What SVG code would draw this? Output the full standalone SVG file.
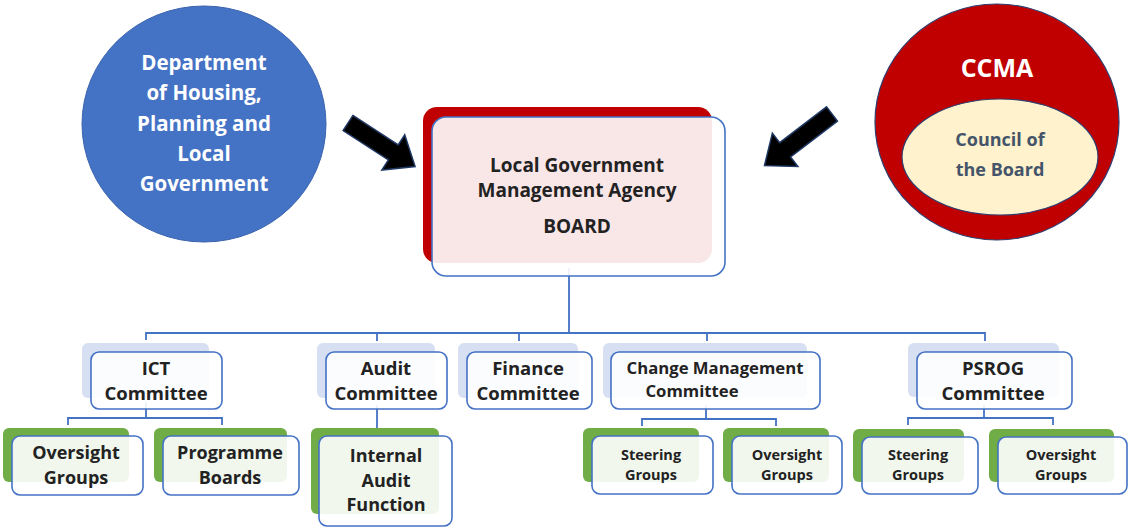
<svg xmlns="http://www.w3.org/2000/svg" width="1129" height="527" viewBox="0 0 1129 527">
<style>
text{font-family:"Open Sans","Liberation Sans",sans-serif;font-weight:700;text-anchor:middle}
.dk{fill:#222222}
.wt{fill:#ffffff}
.box{fill:#ffffff;fill-opacity:0.9;stroke:#4472C4;stroke-width:1.6}
.sb{fill:#D6E0F2}
.sg{fill:#70AD47}
.ln{fill:none;stroke:#4472C4;stroke-width:1.8}
.arr{fill:#000000;stroke:#1F3864;stroke-width:1.5;stroke-linejoin:miter}
</style>
<g id="connectors">
<path class="ln" d="M569,268 V333 M146,340 V333 H985 V341 M377,333 V341 M519,333 V341 M707,333 V341"/>
<path class="ln" d="M146,402 V418 M68,425 V418 H222 V425"/>
<path class="ln" d="M377,405 V428"/>
<path class="ln" d="M706,405 V419 M642,426 V419 H776 V426"/>
<path class="ln" d="M984,405 V418 M908,425 V418 H1053 V425"/>
<polygon class="arr" transform="translate(348,123) rotate(33)" points="0,-9 54,-9 54,-21 80,0 54,21 54,9 0,9"/>
<polygon class="arr" transform="translate(832,114) rotate(142.6)" points="0,-9 59,-9 59,-21 85,0 59,21 59,9 0,9"/>
</g>
<g id="dept">
<ellipse cx="204" cy="124" rx="122" ry="118" fill="#4472C4" stroke="#3A64AE" stroke-width="1"/>
<text class="wt" font-size="20.5" x="204" y="70">Department</text>
<text class="wt" font-size="20.5" x="204" y="100">of Housing,</text>
<text class="wt" font-size="20.5" x="204" y="131">Planning and</text>
<text class="wt" font-size="20.5" x="204" y="161">Local</text>
<text class="wt" font-size="20.5" x="204" y="191">Government</text>
</g>
<g id="ccma">
<ellipse cx="997" cy="122" rx="122" ry="118" fill="#C00000" stroke="#2F3F6F" stroke-width="1.2"/>
<text class="wt" font-size="25" x="997" y="77">CCMA</text>
<ellipse cx="1000" cy="157" rx="98" ry="58" fill="#FFF2CC" stroke="#2F3F6F" stroke-width="1.2"/>
<text font-size="18" x="1000" y="146" fill="#44546A">Council of</text>
<text font-size="18" x="1000" y="176" fill="#44546A">the Board</text>
</g>
<g id="board">
<rect x="423" y="107" width="289" height="156" rx="14" fill="#C00000"/>
<rect class="box" x="432" y="117" width="293" height="159" rx="14"/>
<text class="dk" font-size="19" x="577" y="172">Local Government</text>
<text class="dk" font-size="19" x="577" y="197">Management Agency</text>
<text class="dk" font-size="19" x="577" y="233">BOARD</text>
</g>
<g id="ict">
<rect class="sb" x="82" y="343" width="127" height="55" rx="6"/>
<rect class="box" x="91" y="352" width="131" height="57" rx="8"/>
<text class="dk" font-size="18.5" x="156" y="375">ICT</text>
<text class="dk" font-size="18.5" x="156" y="400">Committee</text>
</g>
<g id="audit">
<rect class="sb" x="317" y="343" width="118" height="55" rx="6"/>
<rect class="box" x="326" y="352" width="121" height="57" rx="8"/>
<text class="dk" font-size="18.5" x="386" y="375">Audit</text>
<text class="dk" font-size="18.5" x="386" y="400">Committee</text>
</g>
<g id="finance">
<rect class="sb" x="458" y="343" width="120" height="55" rx="6"/>
<rect class="box" x="467" y="352" width="125" height="57" rx="8"/>
<text class="dk" font-size="18.5" x="528" y="375">Finance</text>
<text class="dk" font-size="18.5" x="528" y="400">Committee</text>
</g>
<g id="change">
<rect class="sb" x="603" y="343" width="204" height="55" rx="6"/>
<rect class="box" x="611" y="352" width="209" height="57" rx="8"/>
<text class="dk" font-size="16.7" x="715" y="374">Change Management</text>
<text class="dk" font-size="16.7" x="692" y="397">Committee</text>
</g>
<g id="psrog">
<rect class="sb" x="908" y="343" width="151" height="54" rx="6"/>
<rect class="box" x="917" y="352" width="155" height="57" rx="8"/>
<text class="dk" font-size="18.5" x="993" y="375">PSROG</text>
<text class="dk" font-size="18.5" x="993" y="400">Committee</text>
</g>
<g id="ict-oversight">
<rect class="sg" x="3" y="428" width="126" height="54" rx="6"/>
<rect class="box" x="12" y="436" width="131" height="59" rx="8"/>
<text class="dk" font-size="18" x="76" y="459">Oversight</text>
<text class="dk" font-size="18" x="76" y="484">Groups</text>
</g>
<g id="ict-programme">
<rect class="sg" x="154" y="428" width="133" height="54" rx="6"/>
<rect class="box" x="163" y="436" width="136" height="59" rx="8"/>
<text class="dk" font-size="18" x="230" y="459">Programme</text>
<text class="dk" font-size="18" x="230" y="484">Boards</text>
</g>
<g id="internal-audit">
<rect class="sg" x="311" y="428" width="128" height="86" rx="6"/>
<rect class="box" x="319" y="436" width="133" height="90" rx="8"/>
<text class="dk" font-size="18" x="386" y="462">Internal</text>
<text class="dk" font-size="18" x="386" y="487">Audit</text>
<text class="dk" font-size="18" x="386" y="511">Function</text>
</g>
<g id="cm-steering">
<rect class="sg" x="583" y="428" width="116" height="54" rx="6"/>
<rect class="box" x="592" y="436" width="121" height="58" rx="8"/>
<text class="dk" font-size="14.5" x="651" y="460">Steering</text>
<text class="dk" font-size="14.5" x="651" y="480">Groups</text>
</g>
<g id="cm-oversight">
<rect class="sg" x="723" y="428" width="106" height="54" rx="6"/>
<rect class="box" x="732" y="436" width="110" height="58" rx="8"/>
<text class="dk" font-size="14.5" x="787" y="460">Oversight</text>
<text class="dk" font-size="14.5" x="787" y="480">Groups</text>
</g>
<g id="psrog-steering">
<rect class="sg" x="853" y="429" width="111" height="53" rx="6"/>
<rect class="box" x="862" y="437" width="116" height="57" rx="8"/>
<text class="dk" font-size="14.5" x="918" y="460">Steering</text>
<text class="dk" font-size="14.5" x="918" y="480">Groups</text>
</g>
<g id="psrog-oversight">
<rect class="sg" x="989" y="429" width="125" height="53" rx="6"/>
<rect class="box" x="998" y="437" width="129" height="57" rx="8"/>
<text class="dk" font-size="14.5" x="1061" y="460">Oversight</text>
<text class="dk" font-size="14.5" x="1061" y="480">Groups</text>
</g>
</svg>
